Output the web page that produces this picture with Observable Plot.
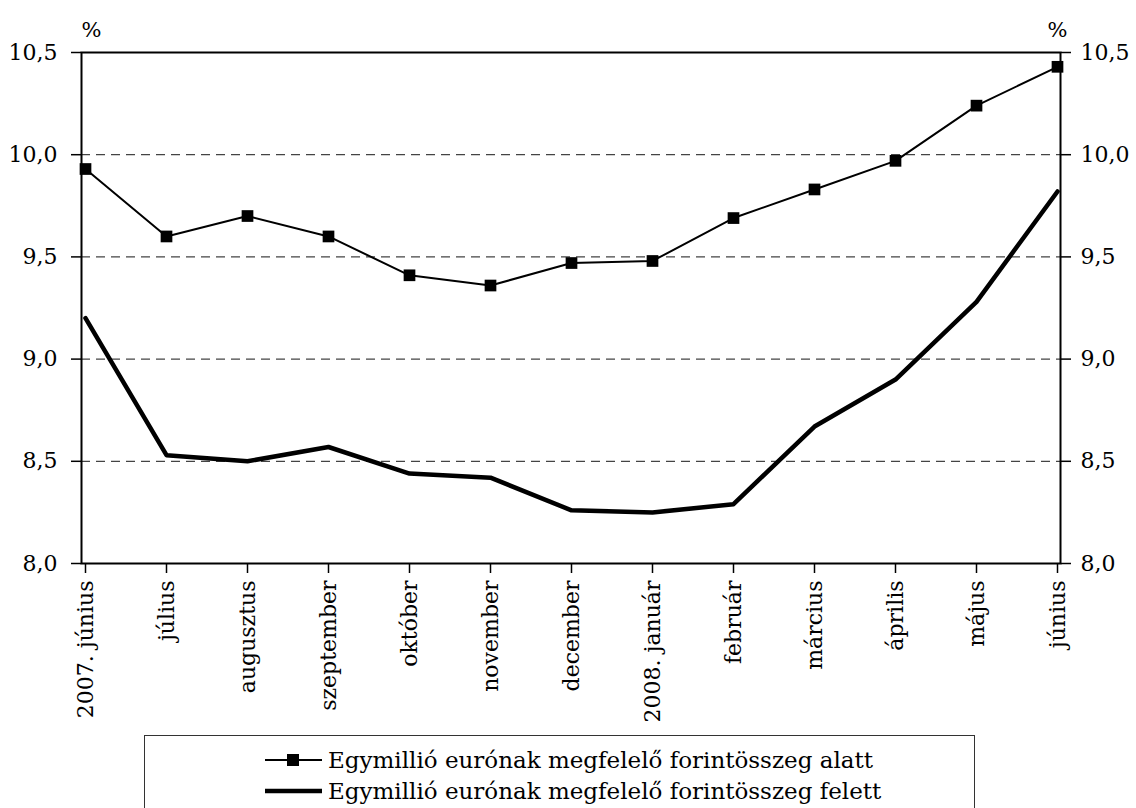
<!DOCTYPE html>
<html>
<head>
<meta charset="utf-8">
<script src="https://cdn.jsdelivr.net/npm/d3@7"></script>
<script src="https://cdn.jsdelivr.net/npm/@observablehq/plot@0.6"></script>
<style>
  body { margin: 0; }
  .ser { font-family: 'DejaVu Serif', serif; }
  .box { position: absolute; left: 144px; top: 735px; width: 831px; height: 90px; border: 1.5px solid #333; box-sizing: border-box; }
  .row { position: absolute; left: 120px; height: 30px; display: flex; align-items: center; font-size: 23px; color: #000; white-space: nowrap; }
</style>
</head>
<body>
<div class="ser" style="position:relative;width:1136px;height:808px;overflow:hidden;font-family:'DejaVu Serif', serif">
  <div id="chart"></div>
  <div class="box">
    <div class="row ser" style="top:9px;font-family:'DejaVu Serif', serif">
      <svg width="57" height="14" style="margin-right:6px"><line x1="0" y1="7" x2="57" y2="7" stroke="#000" stroke-width="2"/><rect x="22" y="1" width="12" height="12" fill="#000"/></svg>
      <span class="ser">Egymillió eurónak megfelelő forintösszeg alatt</span>
    </div>
    <div class="row ser" style="top:40px;font-family:'DejaVu Serif', serif">
      <svg width="57" height="14" style="margin-right:6px"><line x1="0" y1="7" x2="57" y2="7" stroke="#000" stroke-width="4.5"/></svg>
      <span class="ser">Egymillió eurónak megfelelő forintösszeg felett</span>
    </div>
  </div>
</div>
<script>
const months = ["2007. június","július","augusztus","szeptember","október","november","december","2008. január","február","március","április","május","június"];
const alatt  = [9.93, 9.60, 9.70, 9.60, 9.41, 9.36, 9.47, 9.48, 9.69, 9.83, 9.97, 10.24, 10.43];
const felett = [9.20, 8.53, 8.50, 8.57, 8.44, 8.42, 8.26, 8.25, 8.29, 8.67, 8.90, 9.28, 9.82];
const yTicks = [8.0, 8.5, 9.0, 9.5, 10.0, 10.5];
const gridTicks = [8.5, 9.0, 9.5, 10.0];
const unitLabel = "%";

const d1 = months.map((m, i) => ({month: m, value: alatt[i]}));
const d2 = months.map((m, i) => ({month: m, value: felett[i]}));
const fmt = d => d.toFixed(1).replace(".", ",");
const FF = "'DejaVu Serif', serif";

const chart = Plot.plot({
  width: 1136,
  height: 730,
  marginLeft: 81,
  marginRight: 76,
  marginTop: 52,
  marginBottom: 167,
  style: "font-family: 'DejaVu Serif', serif; font-size: 22px; color: #000; background: #fff; overflow: visible;",
  x: {type: "point", domain: months, padding: 0},
  y: {domain: [8, 10.5]},
  marks: [
    Plot.ruleY(gridTicks, {stroke: "#444", strokeWidth: 1.2, strokeDasharray: "9,6"}),
    Plot.frame({stroke: "#000", strokeWidth: 2}),
    Plot.axisY({anchor: "left", ticks: yTicks, tickFormat: fmt, tickSize: 10, tickPadding: 14, label: null, strokeWidth: 1.5, strokeOpacity: 1, fontFamily: FF, fontSize: 22}),
    Plot.axisY({anchor: "right", ticks: yTicks, tickFormat: fmt, tickSize: 10, tickPadding: 10, label: null, strokeWidth: 1.5, strokeOpacity: 1, fontFamily: FF, fontSize: 22}),
    Plot.axisX({tickRotate: -90, tickSize: 10, tickPadding: 7, label: null, strokeWidth: 1.5, strokeOpacity: 1, fontFamily: FF, fontSize: 22}),
    Plot.line(d1, {x: "month", y: "value", stroke: "#000", strokeWidth: 2}),
    Plot.dot(d1, {x: "month", y: "value", symbol: "square", fill: "#000", stroke: "none", r: 6.6}),
    Plot.line(d2, {x: "month", y: "value", stroke: "#000", strokeWidth: 4.5}),
    Plot.text([unitLabel], {x: () => months[0], y: () => 10.5, textAnchor: "start", dx: -4, dy: -22, fontSize: 21, fontFamily: FF}),
    Plot.text([unitLabel], {x: () => months[months.length - 1], y: () => 10.5, textAnchor: "middle", dx: 0, dy: -22, fontSize: 21, fontFamily: FF})
  ]
});
d3.select(chart).selectAll("text").attr("font-family", FF).style("font-family", FF);
document.getElementById("chart").appendChild(chart);
</script>
</body>
</html>
